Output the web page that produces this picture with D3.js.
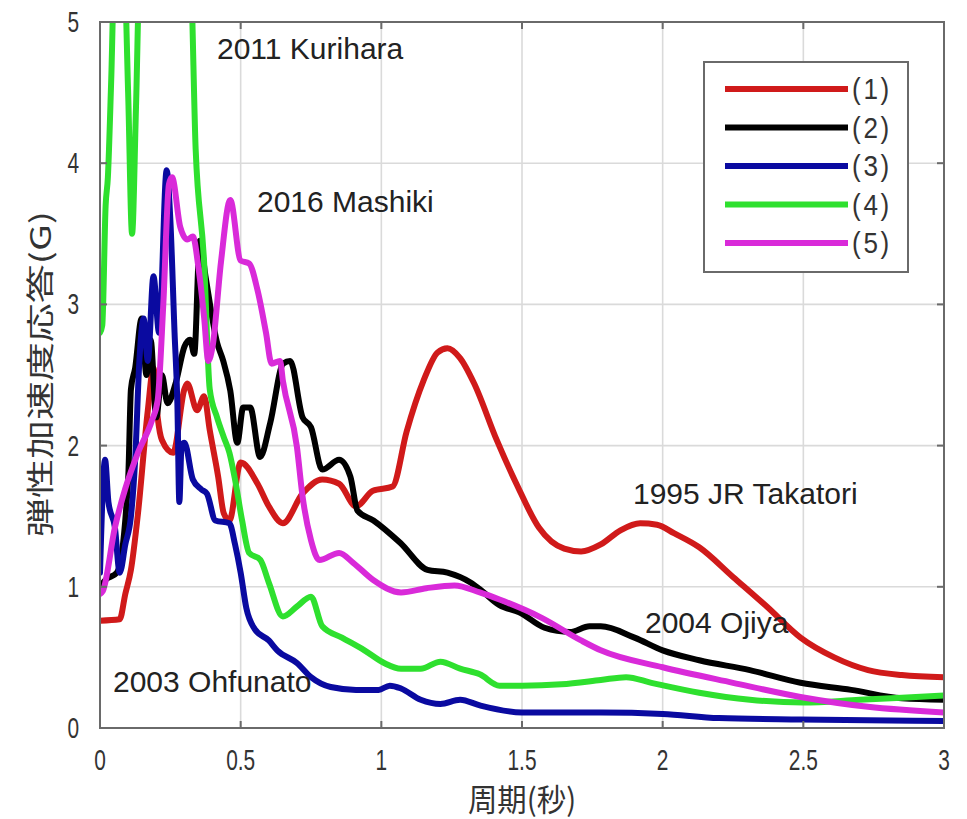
<!DOCTYPE html>
<html>
<head>
<meta charset="utf-8">
<script src="https://cdn.jsdelivr.net/npm/d3@7"></script>
<style>
  html, body { margin: 0; padding: 0; background: #fff; }
  svg { display: block; }
</style>
</head>
<body>
<svg id="chart" width="967" height="819"></svg>
<script>
// Elastic acceleration response spectra (G) against natural period (s)

const seriesLabels = ["(1)", "(2)", "(3)", "(4)", "(5)"];
const seriesColors = ["#d01a1a", "#000000", "#0a0aa0", "#2ee02e", "#d92ad9"];

// (1) 1995 JR Takatori
const periods1 = [0, 0.07, 0.09, 0.11, 0.135, 0.17, 0.19, 0.205, 0.22, 0.26, 0.3, 0.31, 0.345, 0.37, 0.39, 0.42, 0.44, 0.46, 0.5, 0.56, 0.6, 0.65, 0.72, 0.79, 0.85, 0.91, 0.97, 1.04, 1.09, 1.15, 1.2, 1.235, 1.28, 1.33, 1.41, 1.48, 1.56, 1.65, 1.71, 1.78, 1.85, 1.92, 1.98, 2.04, 2.13, 2.25, 2.37, 2.49, 2.61, 2.73, 2.85, 3.0];
const accel1   = [0.76, 0.77, 0.95, 1.12, 1.52, 2.25, 2.55, 2.2, 2.04, 1.95, 2.4, 2.44, 2.25, 2.35, 2.11, 1.78, 1.52, 1.47, 1.88, 1.73, 1.57, 1.45, 1.66, 1.76, 1.73, 1.57, 1.68, 1.71, 2.1, 2.46, 2.66, 2.69, 2.62, 2.44, 2.04, 1.73, 1.42, 1.27, 1.25, 1.3, 1.4, 1.45, 1.44, 1.38, 1.28, 1.07, 0.86, 0.64, 0.5, 0.41, 0.375, 0.36];

// (2) 2004 Ojiya
const periods2 = [0, 0.02, 0.06, 0.1, 0.11, 0.125, 0.148, 0.165, 0.18, 0.2, 0.22, 0.24, 0.27, 0.3, 0.32, 0.335, 0.355, 0.375, 0.416, 0.438, 0.463, 0.488, 0.509, 0.534, 0.569, 0.605, 0.651, 0.676, 0.72, 0.75, 0.79, 0.85, 0.89, 0.915, 0.972, 1.068, 1.164, 1.235, 1.317, 1.352, 1.42, 1.49, 1.58, 1.67, 1.74, 1.78, 1.9, 2.0, 2.13, 2.31, 2.49, 2.67, 2.85, 3.0];
const accel2   = [1.0, 1.05, 1.1, 1.76, 2.4, 2.55, 2.9, 2.5, 2.75, 2.2, 2.5, 2.3, 2.45, 2.7, 2.75, 2.65, 3.45, 3.2, 2.73, 2.6, 2.39, 2.02, 2.27, 2.27, 1.92, 2.16, 2.58, 2.6, 2.2, 2.13, 1.83, 1.9, 1.78, 1.54, 1.47, 1.31, 1.12, 1.1, 1.03, 0.98, 0.87, 0.82, 0.71, 0.68, 0.72, 0.72, 0.64, 0.55, 0.48, 0.41, 0.32, 0.27, 0.21, 0.2];

// (3) 2003 Ohfunato
const periods3 = [0, 0.018, 0.03, 0.053, 0.07, 0.09, 0.11, 0.125, 0.14, 0.155, 0.17, 0.19, 0.21, 0.237, 0.25, 0.265, 0.275, 0.282, 0.29, 0.3, 0.33, 0.36, 0.38, 0.41, 0.46, 0.48, 0.5, 0.52, 0.55, 0.6, 0.63, 0.7, 0.75, 0.82, 0.91, 0.99, 1.03, 1.07, 1.14, 1.21, 1.28, 1.35, 1.5, 1.78, 2.0, 2.2, 2.49, 3.0];
const accel3   = [1.1, 1.9, 1.6, 1.42, 1.1, 1.3, 1.5, 1.9, 2.6, 2.9, 2.6, 3.2, 2.8, 3.95, 3.6, 2.8, 2.3, 1.6, 2.0, 2.02, 1.76, 1.69, 1.66, 1.47, 1.45, 1.3, 1.1, 0.85, 0.7, 0.62, 0.55, 0.46, 0.36, 0.29, 0.27, 0.27, 0.3, 0.28, 0.2, 0.17, 0.2, 0.16, 0.11, 0.11, 0.1, 0.07, 0.06, 0.05];

// (4) 2011 Kurihara (runs above the 5 G limit near the origin)
const periods4 = [0, 0.008, 0.02, 0.028, 0.04, 0.052, 0.085, 0.1, 0.114, 0.128, 0.142, 0.32, 0.34, 0.37, 0.39, 0.416, 0.44, 0.46, 0.48, 0.505, 0.53, 0.57, 0.6, 0.65, 0.7, 0.75, 0.79, 0.86, 0.94, 1.01, 1.07, 1.14, 1.21, 1.28, 1.35, 1.42, 1.5, 1.64, 1.78, 1.87, 1.96, 2.13, 2.31, 2.5, 2.7, 3.0];
const accel4   = [2.8, 2.85, 3.7, 3.9, 4.6, 5.4, 5.4, 4.5, 3.5, 4.4, 5.4, 5.4, 4.1, 3.3, 2.4, 2.2, 2.06, 1.95, 1.76, 1.47, 1.24, 1.19, 1.03, 0.79, 0.86, 0.93, 0.72, 0.64, 0.55, 0.46, 0.42, 0.42, 0.47, 0.42, 0.38, 0.3, 0.3, 0.31, 0.34, 0.36, 0.32, 0.25, 0.2, 0.18, 0.2, 0.23];

// (5) 2016 Mashiki
const periods5 = [0, 0.01, 0.053, 0.089, 0.135, 0.185, 0.205, 0.225, 0.245, 0.256, 0.285, 0.31, 0.33, 0.35, 0.37, 0.385, 0.4, 0.43, 0.463, 0.5, 0.53, 0.56, 0.59, 0.61, 0.64, 0.65, 0.7, 0.72, 0.75, 0.78, 0.85, 0.9, 0.97, 1.07, 1.16, 1.26, 1.35, 1.42, 1.57, 1.71, 1.78, 2.0, 2.25, 2.49, 2.73, 3.0];
const accel5   = [0.95, 0.97, 1.42, 1.69, 1.95, 2.18, 2.32, 3.0, 3.85, 3.9, 3.55, 3.46, 3.48, 3.26, 2.91, 2.6, 2.7, 3.3, 3.74, 3.31, 3.29, 3.1, 2.8, 2.58, 2.6, 2.46, 1.99, 1.64, 1.33, 1.19, 1.24, 1.17, 1.05, 0.96, 0.99, 1.01, 0.96, 0.91, 0.78, 0.62, 0.55, 0.43, 0.32, 0.22, 0.15, 0.11];

const xTicks = [0, 0.5, 1, 1.5, 2, 2.5, 3];
const xTickLabels = ["0", "0.5", "1", "1.5", "2", "2.5", "3"];
const yTicks = [0, 1, 2, 3, 4, 5];
const yTickLabels = ["0", "1", "2", "3", "4", "5"];

const xTitle = "周期(秒)";
const yTitle = "弾性加速度応答(G)";

const annotations = [
  { text: "2011 Kurihara", x: 217, y: 59 },
  { text: "2016 Mashiki", x: 257, y: 212 },
  { text: "1995 JR Takatori", x: 633, y: 504 },
  { text: "2004 Ojiya", x: 645, y: 633 },
  { text: "2003 Ohfunato", x: 113, y: 692 }
];

const seriesData = [
  [periods1, accel1],
  [periods2, accel2],
  [periods3, accel3],
  [periods4, accel4],
  [periods5, accel5]
].map(([t, g], i) => ({
  label: seriesLabels[i],
  color: seriesColors[i],
  points: t.map((v, j) => ({ t: v, g: g[j] }))
}));

// ---- layout ----
const plot = { left: 100, right: 944, top: 22, bottom: 728 };
const svg = d3.select("#chart");

const x = d3.scaleLinear().domain([0, 3]).range([plot.left, plot.right]);
const y = d3.scaleLinear().domain([0, 5]).range([plot.bottom, plot.top]);

const cjkFont = "'Noto Sans CJK JP', 'Noto Sans', sans-serif";
const numFont = "'Liberation Sans', Arial, sans-serif";
const squeeze = 0.72;

// grid
const grid = svg.append("g").attr("stroke", "#dadada").attr("stroke-width", 1.6);
grid.selectAll("line.gx").data(xTicks.slice(1, -1)).join("line")
  .attr("x1", d => x(d)).attr("x2", d => x(d))
  .attr("y1", plot.top).attr("y2", plot.bottom);
grid.selectAll("line.gy").data(yTicks.slice(1, -1)).join("line")
  .attr("x1", plot.left).attr("x2", plot.right)
  .attr("y1", d => y(d)).attr("y2", d => y(d));

// series lines, clipped to the axes box
svg.append("clipPath").attr("id", "plotClip")
  .append("rect")
  .attr("x", plot.left).attr("y", plot.top)
  .attr("width", plot.right - plot.left).attr("height", plot.bottom - plot.top);

const line = d3.line()
  .x(d => x(d.t))
  .y(d => y(d.g))
  .curve(d3.curveMonotoneX);

svg.append("g").attr("clip-path", "url(#plotClip)")
  .selectAll("path").data(seriesData).join("path")
  .attr("d", d => line(d.points))
  .attr("fill", "none")
  .attr("stroke", d => d.color)
  .attr("stroke-width", 6)
  .attr("stroke-linejoin", "round")
  .attr("stroke-linecap", "round");

// axes box with inward ticks
const frame = svg.append("g").attr("stroke", "#6a6a6a").attr("stroke-width", 2).attr("fill", "none");
frame.append("rect")
  .attr("x", plot.left).attr("y", plot.top)
  .attr("width", plot.right - plot.left).attr("height", plot.bottom - plot.top);
const tickLen = 7;
xTicks.forEach(t => {
  frame.append("line").attr("x1", x(t)).attr("x2", x(t)).attr("y1", plot.bottom).attr("y2", plot.bottom - tickLen);
  frame.append("line").attr("x1", x(t)).attr("x2", x(t)).attr("y1", plot.top).attr("y2", plot.top + tickLen);
});
yTicks.forEach(v => {
  frame.append("line").attr("x1", plot.left).attr("x2", plot.left + tickLen).attr("y1", y(v)).attr("y2", y(v));
  frame.append("line").attr("x1", plot.right).attr("x2", plot.right - tickLen).attr("y1", y(v)).attr("y2", y(v));
});

// tick labels (narrow look)
svg.append("g").selectAll("text").data(xTicks).join("text")
  .attr("transform", d => `translate(${x(d)},770) scale(${squeeze},1)`)
  .attr("text-anchor", "middle")
  .attr("font-family", numFont)
  .attr("font-size", 29)
  .attr("fill", "#333")
  .text((d, i) => xTickLabels[i]);

svg.append("g").selectAll("text").data(yTicks).join("text")
  .attr("transform", d => `translate(79,${y(d) + 10}) scale(${squeeze},1)`)
  .attr("text-anchor", "end")
  .attr("font-family", numFont)
  .attr("font-size", 29)
  .attr("fill", "#333")
  .text((d, i) => yTickLabels[i]);

// axis titles
svg.append("text")
  .attr("transform", `translate(${(plot.left + plot.right) / 2},811) scale(0.95,1)`)
  .attr("text-anchor", "middle")
  .attr("font-family", cjkFont)
  .attr("font-size", 31)
  .attr("fill", "#333")
  .text(xTitle);

svg.append("text")
  .attr("transform", `translate(51,374) scale(${squeeze},1) rotate(-90)`)
  .attr("text-anchor", "middle")
  .attr("font-family", cjkFont)
  .attr("font-size", 39)
  .attr("fill", "#333")
  .text(yTitle);

// event annotations
svg.append("g").selectAll("text").data(annotations).join("text")
  .attr("x", d => d.x).attr("y", d => d.y)
  .attr("font-family", numFont)
  .attr("font-size", 30)
  .attr("fill", "#222")
  .text(d => d.text);

// legend
const legend = { x: 704, y: 62, w: 204, h: 210, rowTop: 89, rowGap: 38.5 };
svg.append("rect")
  .attr("x", legend.x).attr("y", legend.y)
  .attr("width", legend.w).attr("height", legend.h)
  .attr("fill", "#fff").attr("stroke", "#6a6a6a").attr("stroke-width", 2);

const rows = svg.append("g").selectAll("g").data(seriesData).join("g")
  .attr("transform", (d, i) => `translate(0,${legend.rowTop + i * legend.rowGap})`);
rows.append("line")
  .attr("x1", 725).attr("x2", 848).attr("y1", 0).attr("y2", 0)
  .attr("stroke", d => d.color).attr("stroke-width", 6);
rows.append("text")
  .attr("transform", `translate(852,10) scale(0.9,1)`)
  .attr("font-family", numFont)
  .attr("font-size", 29)
  .attr("letter-spacing", 3)
  .attr("fill", "#333")
  .text(d => d.label);
</script>
</body>
</html>
